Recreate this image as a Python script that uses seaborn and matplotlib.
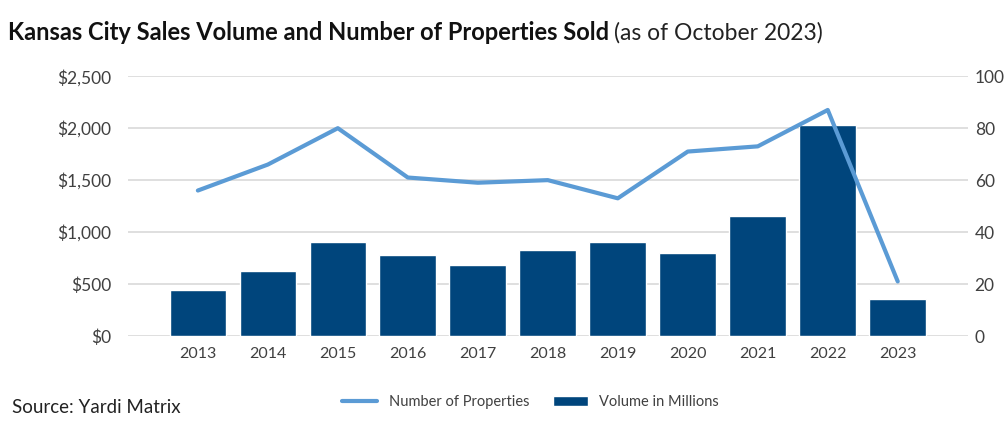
import numpy as np
import pandas as pd
import matplotlib
matplotlib.use("Agg")
import matplotlib.pyplot as plt
import seaborn as sns
from matplotlib.lines import Line2D
from matplotlib.patches import Patch
from matplotlib.ticker import FuncFormatter, MultipleLocator

# data
years = ["2013", "2014", "2015", "2016", "2017", "2018", "2019", "2020", "2021", "2022", "2023"]
volume = [445, 630, 900, 782, 679, 827, 900, 798, 1154, 2026, 353]
properties = [56, 66, 80, 61, 59, 60, 53, 71, 73, 87, 21]

bar_col = "#00457C"
line_col = "#5B9BD5"
txt_col = "#404040"

sns.set_theme(style="white")
plt.rcParams["font.family"] = ["Lato", "DejaVu Sans"]

fig = plt.figure(figsize=(10.07, 4.33), dpi=100)
ax = fig.add_axes([0.127, 0.224, 0.834, 0.6])

df = pd.DataFrame({"year": years, "volume": volume, "props": properties})
sns.barplot(data=df, x="year", y="volume", color=bar_col, width=0.81,
            saturation=1, ax=ax, zorder=2)
ax.set_ylim(0, 2500)
ax.yaxis.set_major_locator(MultipleLocator(500))
ax.yaxis.set_major_formatter(FuncFormatter(lambda v, p: f"${v:,.0f}"))
ax.grid(axis="y", color="#d9d9d9", linewidth=1.2, zorder=0)
ax.set_axisbelow(True)
ax.set_xlabel("")
ax.set_ylabel("")
ax.set_xlim(-1, 11)
ax.tick_params(axis="x", length=0, labelsize=11.5, labelcolor=txt_col, pad=8)
ax.tick_params(axis="y", length=0, labelsize=12.5, labelcolor=txt_col, pad=12)
for s in ax.spines.values():
    s.set_visible(False)

ax2 = ax.twinx()
sns.pointplot(data=df, x="year", y="props", color=line_col, markers="",
              linewidth=3, ax=ax2)
ax2.set_ylim(0, 100)
ax2.set_xlim(-1, 11)
ax2.yaxis.set_major_locator(MultipleLocator(20))
ax2.set_ylabel("")
ax2.set_xlabel("")
ax2.tick_params(axis="y", length=0, labelsize=12.5, labelcolor=txt_col, pad=5)
for s in ax2.spines.values():
    s.set_visible(False)

# title
t1 = fig.text(0.008, 0.925, "Kansas City Sales Volume and Number of Properties Sold",
              fontsize=17, fontweight="bold", color="#111111", va="center")
fig.canvas.draw()
bb = t1.get_window_extent()
fig.text(bb.x1 / fig.bbox.width + 0.005, 0.925, "(as of October 2023)",
         fontsize=16.5, fontweight="normal", color="#222222", va="center")

fig.text(0.012, 0.058, "Source: Yardi Matrix", fontsize=13.5, color="#222222", va="center")

handles = [Line2D([0], [0], color=line_col, lw=3),
           Patch(facecolor=bar_col)]
fig.legend(handles, ["Number of Properties", "Volume in Millions"],
           loc="center", bbox_to_anchor=(0.527, 0.072), ncol=2, frameon=False,
           fontsize=10.5, labelcolor=txt_col, handlelength=2.4, columnspacing=1.6)

fig.savefig("out.png", dpi=100)
